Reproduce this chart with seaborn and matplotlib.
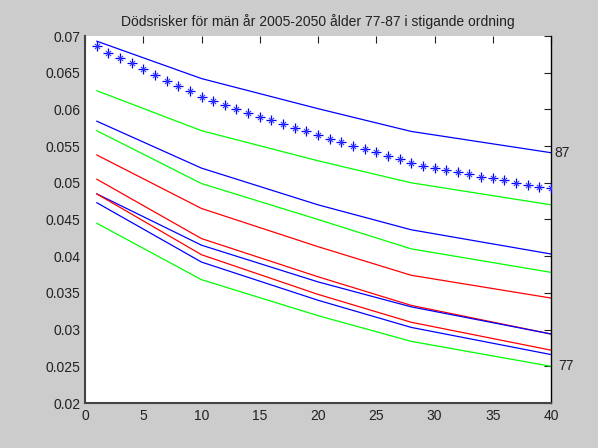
import matplotlib
matplotlib.use("Agg")
import matplotlib.pyplot as plt
import seaborn as sns
import pandas as pd

# ---------------- data ----------------
title = "Dödsrisker för män år 2005-2050 ålder 77-87 i stigande ordning"
x_knots = [1, 10, 20, 28, 40]

line_names = ["87", "l2", "l3", "l4", "l5", "l6", "l7", "l8", "l9", "77"]
line_colors = ["#0000ff", "#00ff00", "#0000ff", "#00ff00", "#ff0000",
               "#ff0000", "#0000ff", "#ff0000", "#0000ff", "#00ff00"]
l87 = [0.0693, 0.0642, 0.0601, 0.0570, 0.0541]
l2 = [0.06255, 0.0571, 0.0530, 0.0500, 0.0470]
l3 = [0.0584, 0.0520, 0.0470, 0.0436, 0.0403]
l4 = [0.0571, 0.0499, 0.0450, 0.0410, 0.0378]
l5 = [0.0538, 0.0465, 0.0413, 0.0374, 0.0343]
l6 = [0.0505, 0.0424, 0.0372, 0.0333, 0.0294]
l7 = [0.0485, 0.0415, 0.0365, 0.0331, 0.0294]
l8 = [0.0485, 0.0402, 0.0348, 0.0310, 0.0272]
l9 = [0.0473, 0.0392, 0.0340, 0.0303, 0.0266]
l77 = [0.0445, 0.0368, 0.0319, 0.0284, 0.0250]
line_values = [l87, l2, l3, l4, l5, l6, l7, l8, l9, l77]
# draw order (red l6 lies under blue l7 at the end)
draw_order = ["l6", "87", "l2", "l3", "l4", "l5", "l7", "l8", "l9", "77"]

star_x = list(range(1, 41))
star_y = [0.06864, 0.06773, 0.0670, 0.06628, 0.0655, 0.06469, 0.06392, 0.06319,
          0.06247, 0.06173, 0.06115, 0.06056, 0.06002, 0.05956, 0.05893, 0.05856,
          0.05797, 0.05747, 0.05706, 0.05652, 0.05601, 0.05556, 0.05498, 0.05461,
          0.05416, 0.05368, 0.05325, 0.05266, 0.05234, 0.05206, 0.05175, 0.05152,
          0.05116, 0.05084, 0.05062, 0.05039, 0.05002, 0.04971, 0.0494, 0.04926]

end_labels = ["87", "77"]
end_label_y = [0.0541, 0.0250]

x_ticks = [0, 5, 10, 15, 20, 25, 30, 35, 40]
y_ticks = [0.02, 0.025, 0.03, 0.035, 0.04, 0.045, 0.05, 0.055, 0.06, 0.065, 0.07]
y_tick_labels = ["0.02", "0.025", "0.03", "0.035", "0.04", "0.045", "0.05",
                 "0.055", "0.06", "0.065", "0.07"]

# ---------------- figure ----------------
sns.set_style("white")
plt.rcParams["font.family"] = ["Liberation Sans", "DejaVu Sans"]

fig = plt.figure(figsize=(5.98, 4.48), dpi=100, facecolor="#cccccc")
ax = fig.add_axes([85 / 598, 1 - 403 / 448, 466 / 598, 367 / 448])
ax.set_facecolor("white")

rows = []
for name, vals in zip(line_names, line_values):
    for xv, yv in zip(x_knots, vals):
        rows.append({"serie": name, "x": xv, "y": yv})
df = pd.DataFrame(rows)
palette = dict(zip(line_names, line_colors))

for name in draw_order:
    sub = df[df["serie"] == name]
    sns.lineplot(data=sub, x="x", y="y", color=palette[name], lw=0.9,
                 estimator=None, sort=False, legend=False, ax=ax)

# MATLAB-style asterisk: a plus with shorter diagonals
sns.scatterplot(x=star_x, y=star_y, color="#0000ff", marker="+",
                s=55, linewidth=0.9, legend=False, ax=ax, zorder=5)
sns.scatterplot(x=star_x, y=star_y, color="#3a3aff", marker="x",
                s=14, linewidth=0.8, legend=False, ax=ax, zorder=5)

ax.text(40.3, end_label_y[0], end_labels[0], ha="left", va="center",
        fontsize=10, color="#222222", clip_on=False)
ax.text(40.6, end_label_y[1], end_labels[1], ha="left", va="center",
        fontsize=10, color="#222222", clip_on=False)

ax.set_xlim(0, 40)
ax.set_ylim(0.02, 0.07)
ax.set_xticks(x_ticks)
ax.set_xticklabels([str(t) for t in x_ticks])
ax.set_yticks(y_ticks)
ax.set_yticklabels(y_tick_labels)
ax.set_xlabel("")
ax.set_ylabel("")
ax.tick_params(direction="in", length=5, width=0.8, colors="#222222",
               labelsize=10, top=True, right=True, pad=4)
ax.tick_params(axis="y", pad=3.5)
for side in ["left", "bottom"]:
    ax.spines[side].set_color("#444444")
    ax.spines[side].set_linewidth(1.5)
ax.spines["right"].set_color("#000000")
ax.spines["right"].set_linewidth(1.0)
ax.spines["top"].set_visible(False)

ax.set_title(title, fontsize=10, color="#222222", pad=7)

fig.savefig("out.png", dpi=100, facecolor=fig.get_facecolor())
